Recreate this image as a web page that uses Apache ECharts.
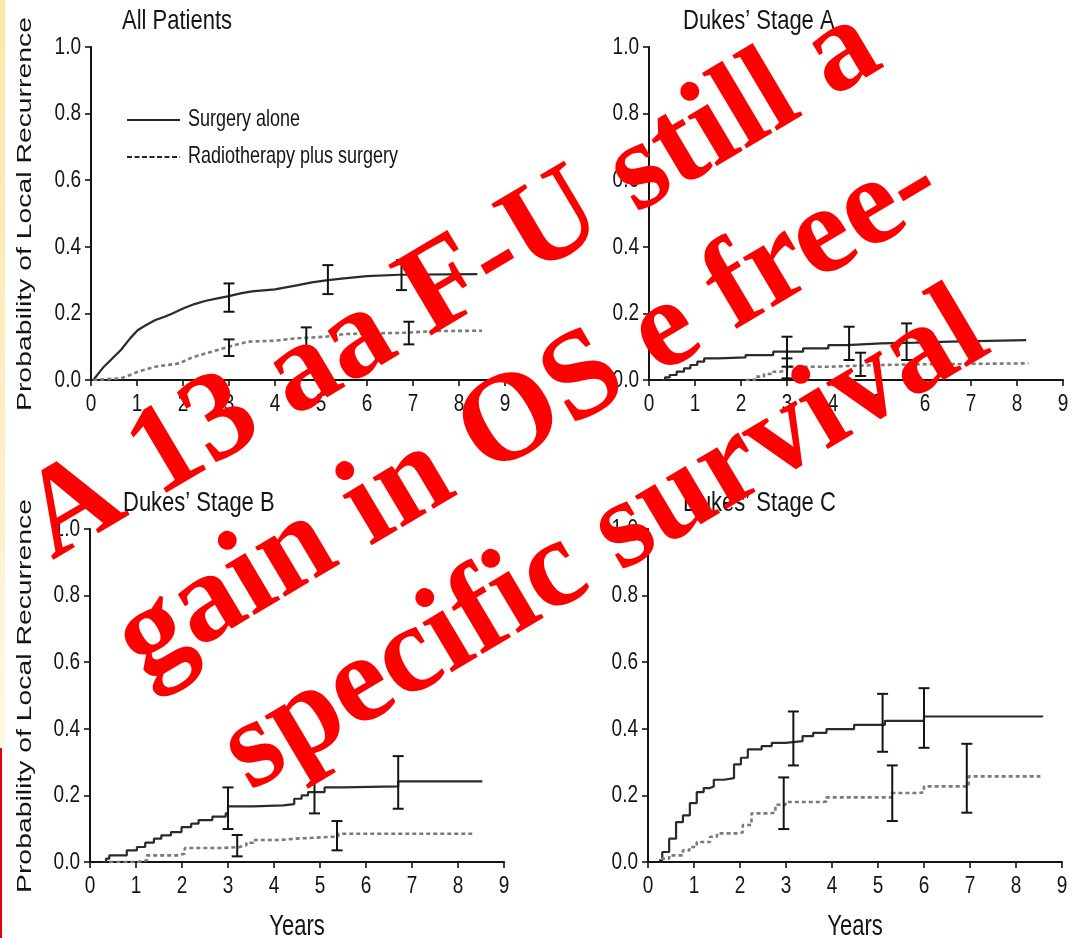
<!DOCTYPE html>
<html>
<head>
<meta charset="utf-8">
<script src="https://cdn.jsdelivr.net/npm/echarts@6/dist/echarts.min.js"></script>
<style>
  html, body { margin: 0; padding: 0; background: #ffffff; }
  #chart { width: 1078px; height: 938px; }
</style>
</head>
<body>
<div id="chart"></div>
<script>
// ---- text ----
const panelTitles = ['All Patients', 'Dukes\u2019 Stage A', 'Dukes\u2019 Stage B', 'Dukes\u2019 Stage C'];
const seriesNames = ['Surgery alone', 'Radiotherapy plus surgery'];
const yAxisTitle = 'Probability of Local Recurrence';
const xAxisTitle = 'Years';
const overlayLines = ['A 13 aa F-U still a', 'gain in OS e free-', 'specific survival'];

// ---- axis ticks ----
const xTicks = [0, 1, 2, 3, 4, 5, 6, 7, 8, 9];
const yTicks = [0, 0.2, 0.4, 0.6, 0.8, 1.0];

// ---- cumulative local recurrence, [years, probability] ----
const surgeryAll = [[0.05,0],[0.28,0.04],[0.5,0.07],[0.65,0.09],[0.85,0.125],[1.02,0.15],[1.2,0.165],[1.4,0.18],[1.6,0.19],[1.77,0.2],[2.0,0.215],[2.25,0.228],[2.5,0.238],[2.75,0.245],[3.0,0.252],[3.25,0.26],[3.5,0.266],[4.0,0.272],[4.5,0.285],[4.8,0.293],[5.15,0.3],[5.5,0.305],[6.0,0.312],[6.7,0.316],[8.4,0.318]];
const radioAll = [[0.05,0],[0.65,0.005],[0.85,0.015],[1.02,0.025],[1.4,0.04],[1.92,0.05],[2.2,0.068],[2.5,0.08],[2.8,0.092],[3.0,0.1],[3.4,0.115],[4.0,0.118],[4.45,0.125],[5.1,0.13],[5.5,0.138],[6.85,0.142],[7.45,0.147],[8.5,0.148]];

const surgeryA = [[0.27,0],[0.35,0.008],[0.45,0.015],[0.6,0.025],[0.76,0.035],[0.9,0.045],[1.05,0.055],[1.2,0.065],[1.5,0.068],[2.1,0.075],[2.7,0.085],[3.35,0.095],[3.9,0.105],[4.3,0.11],[5.05,0.112],[5.8,0.115],[6.55,0.12],[8.2,0.12]];
const radioA = [[2.1,0],[2.3,0.01],[2.5,0.018],[2.7,0.025],[2.85,0.03],[3.0,0.04],[3.95,0.042],[4.3,0.045],[5.05,0.047],[5.8,0.05],[8.25,0.05]];

const surgeryB = [[0.28,0],[0.35,0.01],[0.42,0.02],[0.8,0.035],[1.02,0.045],[1.2,0.058],[1.39,0.07],[1.55,0.08],[1.76,0.09],[1.99,0.105],[2.2,0.115],[2.36,0.126],[2.66,0.136],[2.95,0.146],[3.0,0.167],[3.55,0.17],[4.2,0.174],[4.44,0.19],[4.6,0.2],[4.74,0.21],[5.1,0.224],[5.48,0.227],[6.7,0.242],[8.53,0.242]];
const radioB = [[0.42,0],[1.02,0.005],[1.24,0.02],[1.91,0.025],[2.06,0.042],[2.88,0.045],[3.25,0.05],[3.4,0.058],[3.55,0.066],[4.14,0.07],[4.44,0.076],[5.33,0.078],[5.4,0.085],[8.35,0.085]];

const surgeryC = [[0.24,0.005],[0.31,0.03],[0.46,0.07],[0.61,0.12],[0.76,0.14],[0.91,0.177],[1.06,0.21],[1.21,0.222],[1.35,0.227],[1.43,0.247],[1.65,0.252],[1.87,0.293],[2.02,0.313],[2.17,0.338],[2.47,0.348],[2.69,0.358],[2.99,0.363],[3.36,0.378],[3.59,0.388],[3.88,0.399],[4.48,0.412],[5.15,0.424],[6.0,0.437],[8.57,0.44]];
const radioC = [[0.28,0.01],[0.46,0.02],[0.76,0.035],[0.9,0.045],[1.06,0.06],[1.35,0.076],[1.5,0.086],[1.95,0.089],[2.06,0.111],[2.25,0.146],[2.62,0.148],[2.77,0.172],[2.99,0.18],[3.81,0.182],[3.88,0.194],[5.3,0.207],[5.89,0.21],[6.0,0.227],[6.97,0.257],[8.53,0.257]];

// ---- confidence bars, [years, lower, upper] ----
const surgeryAllCI = [[3.0,0.205,0.29],[5.15,0.258,0.345],[6.75,0.27,0.36]];
const radioAllCI   = [[3.0,0.072,0.122],[4.68,0.093,0.158],[6.91,0.107,0.175]];
const surgeryACI   = [[3.0,0.04,0.13],[4.35,0.06,0.16],[5.6,0.06,0.17]];
const radioACI     = [[3.0,0.005,0.065],[4.6,0.012,0.082]];
const surgeryBCI   = [[3.0,0.099,0.224],[4.88,0.146,0.254],[6.7,0.16,0.318]];
const radioBCI     = [[3.2,0.017,0.081],[5.37,0.035,0.123]];
const surgeryCCI   = [[3.16,0.29,0.452],[5.1,0.331,0.505],[6.0,0.343,0.522]];
const radioCCI     = [[2.95,0.099,0.254],[5.31,0.123,0.29],[6.93,0.148,0.355]];

const panels = [
  { surgery: surgeryAll, radio: radioAll, sCI: surgeryAllCI, rCI: radioAllCI, step: false },
  { surgery: surgeryA,   radio: radioA,   sCI: surgeryACI,   rCI: radioACI,   step: 'end' },
  { surgery: surgeryB,   radio: radioB,   sCI: surgeryBCI,   rCI: radioBCI,   step: 'end' },
  { surgery: surgeryC,   radio: radioC,   sCI: surgeryCCI,   rCI: radioCCI,   step: 'end' }
];

// ---- layout and style ----
const grids = [
  { left: 91,  top: 47,  width: 414, height: 333 },
  { left: 649, top: 47,  width: 414, height: 333 },
  { left: 90,  top: 529, width: 414, height: 333 },
  { left: 648, top: 529, width: 414, height: 333 }
];
const titlePos = [[122, 21], [683, 21], [123, 503], [683, 503]];
const ink = '#141414';
const sans = '"Liberation Sans", Arial, sans-serif';
const tall = 1.3;   // lettering is drawn tall and slim

function errorBarItem(params, api) {
  const x = api.value(0);
  const lo = api.coord([x, api.value(1)]);
  const hi = api.coord([x, api.value(2)]);
  const half = 5.5;
  const style = { stroke: ink, lineWidth: 2 };
  return {
    type: 'group',
    children: [
      { type: 'line', shape: { x1: lo[0], y1: lo[1], x2: hi[0], y2: hi[1] }, style },
      { type: 'line', shape: { x1: lo[0] - half, y1: lo[1], x2: lo[0] + half, y2: lo[1] }, style },
      { type: 'line', shape: { x1: hi[0] - half, y1: hi[1], x2: hi[0] + half, y2: hi[1] }, style }
    ]
  };
}

const axisLine = { show: true, onZero: false, lineStyle: { color: ink, width: 2 } };
const axisTick = { show: true, inside: false, length: 6, lineStyle: { color: ink, width: 1.6 } };

const xAxes = grids.map((g, i) => ({
  type: 'value', gridIndex: i, min: xTicks[0], max: xTicks[xTicks.length - 1], interval: 1,
  axisLine, axisTick, axisLabel: { show: false }, splitLine: { show: false }
}));
const yAxes = grids.map((g, i) => ({
  type: 'value', gridIndex: i, min: yTicks[0], max: yTicks[yTicks.length - 1], interval: 0.2,
  axisLine, axisTick, axisLabel: { show: false }, splitLine: { show: false }
}));

const series = [];
panels.forEach((p, i) => {
  series.push({
    name: seriesNames[0], type: 'line', xAxisIndex: i, yAxisIndex: i, data: p.surgery,
    step: p.step, symbol: 'none', smooth: false, z: 3,
    lineStyle: { color: '#2a2a2a', width: 2.2 }, itemStyle: { color: '#2a2a2a' }
  });
  series.push({
    name: seriesNames[1], type: 'line', xAxisIndex: i, yAxisIndex: i, data: p.radio,
    step: p.step, symbol: 'none', smooth: false, z: 3,
    lineStyle: { color: '#7a7a7a', width: 2.6, type: [4, 3] }, itemStyle: { color: '#7a7a7a' }
  });
  [p.sCI, p.rCI].forEach(ci => series.push({
    type: 'custom', xAxisIndex: i, yAxisIndex: i, data: ci, z: 4,
    encode: { x: 0, y: [1, 2] }, renderItem: errorBarItem, silent: true
  }));
});

const chart = echarts.init(document.getElementById('chart'), null, { renderer: 'canvas' });
chart.setOption({
  backgroundColor: '#ffffff',
  animation: false,
  grid: grids,
  xAxis: xAxes,
  yAxis: yAxes,
  series: series
});

// ---- lettering, placed through the axes' own scales ----
function label(text, x, y, size, align, extra) {
  return Object.assign({
    type: 'text', x: x, y: y, scaleY: tall, z: 6, silent: true,
    style: { text: text, font: size + 'px ' + sans, fill: ink,
             align: align, verticalAlign: 'middle', textAlign: align, textVerticalAlign: 'middle' }
  }, extra || {});
}

const graphics = [
  // yellow edge of the slide
  { type: 'rect', x: 0, y: 0, z: -10, silent: true, shape: { width: 5, height: 748 },
    style: { fill: new echarts.graphic.LinearGradient(0, 0, 0, 1, [
      { offset: 0, color: '#fde6a9' }, { offset: 0.6, color: '#fdeec6' }, { offset: 1, color: '#fef8e6' }]) } },
  { type: 'rect', x: 0, y: 748, z: -10, silent: true, shape: { width: 2, height: 190 }, style: { fill: '#e4000f' } }
];

grids.forEach((g, i) => {
  const x0 = chart.convertToPixel({ xAxisIndex: i }, xTicks[0]);
  const y0 = chart.convertToPixel({ yAxisIndex: i }, yTicks[0]);
  xTicks.forEach(t => graphics.push(label(String(t), chart.convertToPixel({ xAxisIndex: i }, t), y0 + 24.5, 19, 'center')));
  yTicks.forEach(t => graphics.push(label(t.toFixed(1), x0 - 10, chart.convertToPixel({ yAxisIndex: i }, t), 19, 'right')));
  graphics.push(label(panelTitles[i], titlePos[i][0], titlePos[i][1], 22, 'left', { scaleY: 1.25 }));
  if (i >= 2) {
    const xm = chart.convertToPixel({ xAxisIndex: i }, (xTicks[0] + xTicks[xTicks.length - 1]) / 2);
    graphics.push(label(xAxisTitle, xm, y0 + 65, 22, 'center'));
  }
  if (i % 2 === 0) {
    const ym = chart.convertToPixel({ yAxisIndex: i }, 0.5) + 0.5;
    graphics.push({
      type: 'text', x: 25, y: ym, rotation: Math.PI / 2, scaleX: 1.35, z: 6, silent: true,
      style: { text: yAxisTitle, font: '21px ' + sans, fill: ink,
               align: 'center', verticalAlign: 'middle', textAlign: 'center', textVerticalAlign: 'middle' }
    });
  }
});

// key for the two treatment arms
const keyRows = [{ y: 120, dash: null }, { y: 157, dash: [5, 2.5] }];
keyRows.forEach((row, k) => {
  graphics.push({ type: 'line', z: 6, silent: true, shape: { x1: 127, y1: row.y, x2: 180, y2: row.y },
                  style: { stroke: '#222', lineWidth: 2, lineDash: row.dash } });
  graphics.push(label(seriesNames[k], 188, row.y, 18, 'left'));
});

// red slanted caption
graphics.push({
  type: 'text', x: 529, y: 414, rotation: 30.7 * Math.PI / 180, z: 100, silent: true,
  style: { text: overlayLines.join('\n'), font: 'bold 126px "Liberation Serif", "Times New Roman", serif',
           fill: '#ff0000', lineHeight: 150,
           align: 'center', verticalAlign: 'middle', textAlign: 'center', textVerticalAlign: 'middle' }
});

chart.setOption({ graphic: graphics });
</script>
</body>
</html>
